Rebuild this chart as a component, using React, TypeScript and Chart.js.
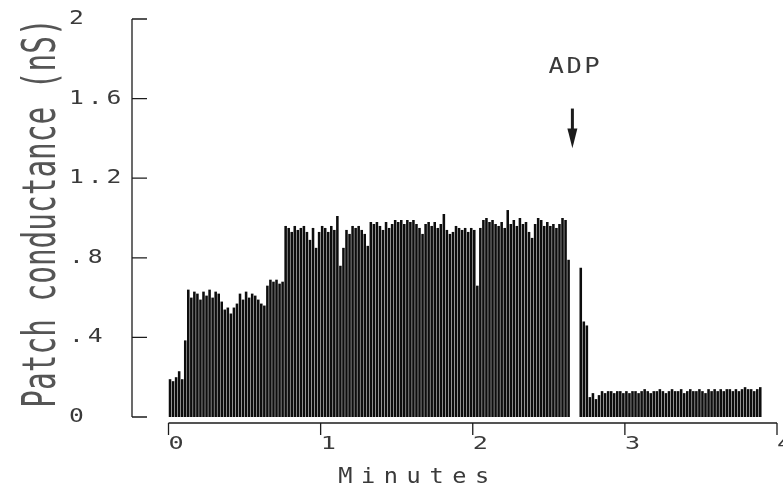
import React, { useEffect, useRef } from "react";
import { Chart, registerables } from "chart.js";

Chart.register(...registerables);

// ---- Data (patch conductance in nS, sampled every 0.02 min) ----
const sampleStartMin = 0.01;
const sampleStepMin = 0.02;

const baselineG = [0.19, 0.18, 0.2, 0.23, 0.19, 0.385];

const firstLevelG = [
  0.64, 0.6, 0.63, 0.62, 0.59, 0.63, 0.61, 0.64, 0.6, 0.63, 0.62, 0.58,
  0.54, 0.55, 0.52, 0.55, 0.57, 0.62, 0.59, 0.63, 0.6, 0.62, 0.61, 0.59,
  0.57, 0.56, 0.66, 0.69, 0.68, 0.69, 0.67, 0.68,
];

const secondLevelG = [
  0.96, 0.95, 0.93, 0.96, 0.94, 0.95, 0.96, 0.93, 0.89, 0.95, 0.85, 0.93,
  0.96, 0.95, 0.93, 0.96, 0.94, 1.01, 0.76, 0.85, 0.94, 0.92, 0.96, 0.95,
  0.96, 0.94, 0.92, 0.86, 0.98, 0.97, 0.98, 0.96, 0.94, 0.98, 0.95, 0.97,
  0.99, 0.98, 0.99, 0.97, 0.99, 0.98, 0.99, 0.97, 0.95, 0.92, 0.97, 0.98,
  0.96, 0.98, 0.95, 0.97, 1.02, 0.94, 0.92, 0.93, 0.96, 0.95, 0.94, 0.95,
  0.93, 0.95, 0.94, 0.66, 0.95, 0.99, 1.0, 0.98, 0.99, 0.97, 0.96, 0.98,
  0.95, 1.04, 0.97, 0.99, 0.96, 1.0, 0.97, 0.98, 0.93, 0.9, 0.97, 1.0,
  0.99, 0.96, 0.98, 0.96, 0.97, 0.95, 0.97, 1.0, 0.99, 0.79,
];

const postAdpStartMin = 2.71;
const postAdpG = [
  0.75, 0.48, 0.46, 0.1, 0.12, 0.09, 0.11, 0.13, 0.12, 0.13,
  0.13, 0.12, 0.13, 0.13, 0.12, 0.13, 0.12, 0.13, 0.13, 0.12,
  0.13, 0.14, 0.13, 0.12, 0.13, 0.13, 0.14, 0.13, 0.12, 0.13,
  0.14, 0.13, 0.13, 0.14, 0.12, 0.13, 0.14, 0.13, 0.13, 0.14,
  0.13, 0.12, 0.14, 0.13, 0.14, 0.13, 0.14, 0.13, 0.14, 0.14,
  0.13, 0.14, 0.13, 0.14, 0.15, 0.14, 0.14, 0.13, 0.14, 0.15,
];

const adpTimeMin = 2.655;
const adpLabel = "ADP";

const yTickValues = [0, 0.4, 0.8, 1.2, 1.6, 2];
const yTickLabels = ["0", ".4", ".8", "1.2", "1.6", "2"];
const xTickValues = [0, 1, 2, 3, 4];
const xTickLabels = ["0", "1", "2", "3", "4"];

const yTitle = "Patch conductance (nS)";
const xTitle = "Minutes";

const INK = "#1c1c1c";
const TEXT = "#3a3a3a";
const MONO = '"DejaVu Sans Mono", monospace';

function drawText(
  ctx: CanvasRenderingContext2D,
  text: string,
  x: number,
  y: number,
  o: {
    size: number;
    align?: CanvasTextAlign;
    baseline?: CanvasTextBaseline;
    sx?: number;
    sy?: number;
    spacing?: number;
    rotate?: number;
    color?: string;
  }
) {
  ctx.save();
  ctx.translate(x, y);
  if (o.rotate) ctx.rotate(o.rotate);
  ctx.scale(o.sx ?? 1, o.sy ?? 1);
  ctx.font = `${o.size}px ${MONO}`;
  (ctx as any).letterSpacing = `${o.spacing ?? 0}px`;
  ctx.textAlign = o.align ?? "left";
  ctx.textBaseline = o.baseline ?? "middle";
  ctx.fillStyle = o.color ?? TEXT;
  ctx.fillText(text, 0, 0);
  ctx.restore();
}

const decorPlugin = {
  id: "decor",
  afterDraw(chart: any) {
    const ctx: CanvasRenderingContext2D = chart.ctx;
    const xs = chart.scales.x;
    const ys = chart.scales.y;
    const left = chart.chartArea.left;
    const y0 = ys.getPixelForValue(0);
    const yTop = ys.getPixelForValue(2);

    ctx.save();
    ctx.strokeStyle = INK;
    ctx.lineWidth = 1.3;

    // Y axis line with inward ticks
    ctx.beginPath();
    ctx.moveTo(left, yTop);
    ctx.lineTo(left, y0);
    yTickValues.forEach((v) => {
      const py = ys.getPixelForValue(v);
      ctx.moveTo(left, py);
      ctx.lineTo(left + 15, py);
    });
    ctx.stroke();

    // X axis line, offset below the baseline, ticks downward
    const axY = y0 + 6;
    ctx.beginPath();
    ctx.moveTo(xs.getPixelForValue(0), axY);
    ctx.lineTo(xs.getPixelForValue(4), axY);
    xTickValues.forEach((v) => {
      const px = xs.getPixelForValue(v);
      ctx.moveTo(px, axY);
      ctx.lineTo(px, axY + 12);
    });
    ctx.stroke();

    // Y tick labels (left aligned)
    yTickValues.forEach((v, i) => {
      const py = ys.getPixelForValue(v);
      drawText(ctx, yTickLabels[i], 69, py, { size: 19, sx: 1.3, spacing: 3 });
    });

    // X tick labels
    xTickValues.forEach((v, i) => {
      const px = xs.getPixelForValue(v);
      drawText(ctx, xTickLabels[i], px, axY + 21, { size: 18, sx: 1.4 });
    });

    // Axis titles
    drawText(ctx, yTitle, 55, 213, {
      size: 29.4,
      align: "center",
      baseline: "alphabetic",
      rotate: -Math.PI / 2,
      sy: 1.6,
      color: "#555",
    });
    drawText(ctx, xTitle, 418, 478, {
      size: 20.5,
      align: "center",
      sx: 1.15,
      spacing: 7.5,
    });

    // ADP annotation with arrow
    const ax = xs.getPixelForValue(adpTimeMin);
    drawText(ctx, adpLabel, ax + 3, ys.getPixelForValue(1.755), {
      size: 20.5,
      align: "center",
      sx: 1.25,
      spacing: 2,
    });
    const shaftTop = ys.getPixelForValue(1.55);
    const headTop = ys.getPixelForValue(1.45);
    const tip = ys.getPixelForValue(1.35);
    ctx.fillStyle = INK;
    ctx.fillRect(ax - 1.5, shaftTop, 3, headTop - shaftTop + 1);
    ctx.beginPath();
    ctx.moveTo(ax - 5, headTop);
    ctx.lineTo(ax + 5, headTop);
    ctx.lineTo(ax, tip);
    ctx.closePath();
    ctx.fill();

    ctx.restore();
  },
};

export default function App() {
  const canvasRef = useRef<HTMLCanvasElement | null>(null);

  useEffect(() => {
    const canvas = canvasRef.current;
    if (!canvas) return;

    const preValues = [...baselineG, ...firstLevelG, ...secondLevelG];
    const prePoints = preValues.map((y, i) => ({ x: sampleStartMin + i * sampleStepMin, y }));
    const postPoints = postAdpG.map((y, i) => ({ x: postAdpStartMin + i * sampleStepMin, y }));

    const chart = new Chart(canvas, {
      type: "bar",
      data: {
        datasets: [
          {
            data: [...prePoints, ...postPoints] as any,
            backgroundColor: "#0d0d0d",
            borderWidth: 0,
            barPercentage: 0.84,
            categoryPercentage: 1,
          },
        ],
      },
      options: {
        animation: false,
        responsive: false,
        events: [],
        layout: { padding: { left: 132, right: 6, top: 19, bottom: 77 } },
        plugins: { legend: { display: false }, tooltip: { enabled: false } },
        scales: {
          x: { type: "linear", min: -0.24, max: 4.0, offset: false, display: false },
          y: { type: "linear", min: 0, max: 2, display: false },
        },
      },
      plugins: [decorPlugin],
    });

    return () => chart.destroy();
  }, []);

  return (
    <div style={{ position: "absolute", left: 0, top: 0, width: 783, height: 494, background: "#fff" }}>
      <canvas ref={canvasRef} width={783} height={494} style={{ display: "block" }} />
    </div>
  );
}
